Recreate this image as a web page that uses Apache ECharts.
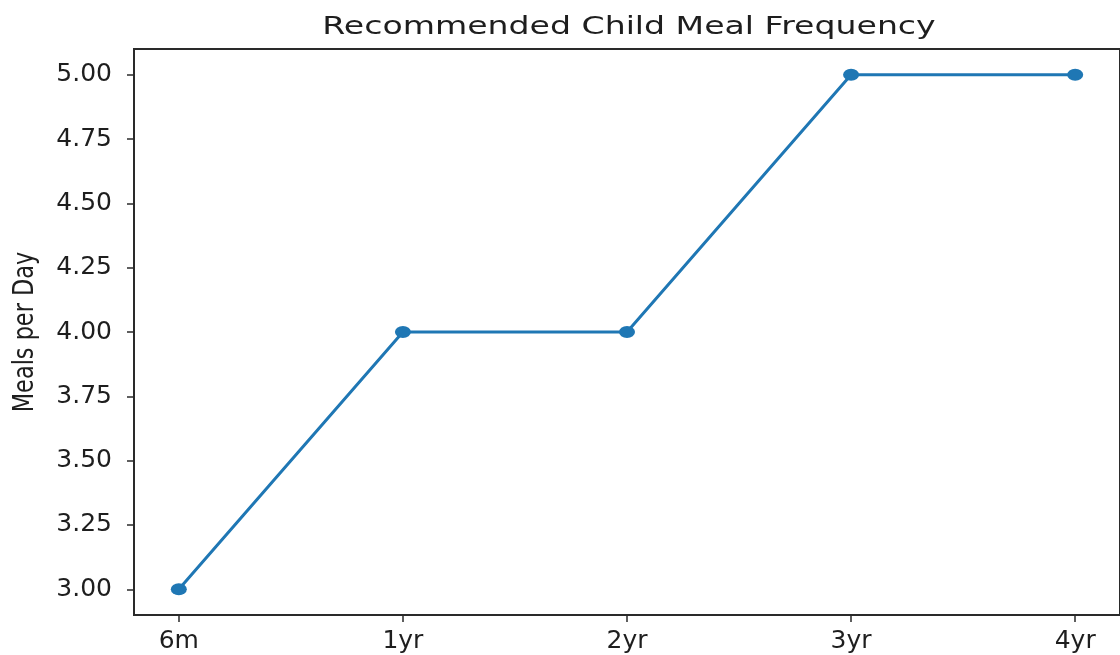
<!DOCTYPE html>
<html>
<head>
<meta charset="utf-8">
<script src="https://cdn.jsdelivr.net/npm/echarts@6/dist/echarts.min.js"></script>
<style>
html,body{margin:0;padding:0;background:#fff;}
#chart{width:1120px;height:655px;}
</style>
</head>
<body>
<div id="chart"></div>
<script>
const categories = ['6m', '1yr', '2yr', '3yr', '4yr'];
const mealsPerDay = [3, 4, 4, 5, 5];
const yTicks = [3.00, 3.25, 3.50, 3.75, 4.00, 4.25, 4.50, 4.75, 5.00];
const titleText = 'Recommended Child Meal Frequency';
const yLabelText = 'Meals per Day';

const chart = echarts.init(document.getElementById('chart'));
const seriesData = mealsPerDay.map((v, i) => [i, v]);
const xTickValues = categories.map((c, i) => i);
const textColor = '#1e1e1e';
const FONT = 'DejaVu Sans';

chart.setOption({
  backgroundColor: '#fff',
  animation: false,
  grid: {
    left: 134, top: 49, width: 991, height: 566,
    show: true, borderColor: '#2a2a2a', borderWidth: 2, backgroundColor: 'transparent'
  },
  xAxis: {
    type: 'value', min: -0.2, max: 4.2,
    axisLine: { show: true, onZero: false, lineStyle: { color: '#2a2a2a', width: 2 } },
    axisTick: { show: true, customValues: xTickValues, length: 7, lineStyle: { color: '#2a2a2a', width: 1.5 } },
    axisLabel: {
      customValues: xTickValues,
      formatter: v => categories[Math.round(v)] || '',
      fontFamily: FONT, fontSize: 25, color: textColor, margin: 14
    },
    splitLine: { show: false }
  },
  yAxis: {
    type: 'value', min: 2.9, max: 5.1,
    axisLine: { show: true, onZero: false, lineStyle: { color: '#2a2a2a', width: 2 } },
    axisTick: { show: true, customValues: yTicks, length: 7, lineStyle: { color: '#2a2a2a', width: 1.5 } },
    axisLabel: {
      customValues: yTicks,
      formatter: v => Number(v).toFixed(2),
      fontFamily: FONT, fontSize: 25, color: textColor, margin: 22
    },
    splitLine: { show: false }
  },
  graphic: [
    {
      type: 'text', x: 629, y: 28, scaleX: 1.38, silent: true,
      style: {
        text: titleText, fontFamily: FONT, fontSize: 24, fill: textColor,
        align: 'center', verticalAlign: 'middle', textAlign: 'center', textVerticalAlign: 'middle'
      }
    },
    {
      type: 'text', x: 26, y: 332, rotation: Math.PI / 2, scaleX: 0.8, silent: true,
      style: {
        text: yLabelText, fontFamily: FONT, fontSize: 28, fill: textColor,
        align: 'center', verticalAlign: 'middle', textAlign: 'center', textVerticalAlign: 'middle'
      }
    }
  ],
  series: [{
    type: 'line',
    data: seriesData,
    symbol: 'circle',
    symbolSize: [16, 12],
    showSymbol: true,
    lineStyle: { color: '#1f77b4', width: 3 },
    itemStyle: { color: '#1f77b4' },
    emphasis: { disabled: true }
  }]
});
</script>
</body>
</html>
